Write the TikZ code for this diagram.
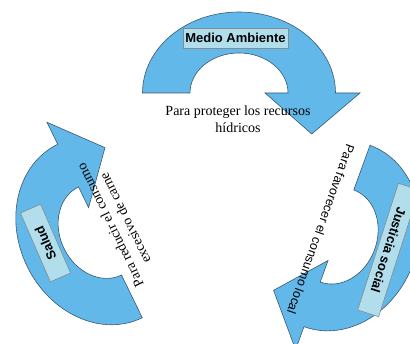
\documentclass[tikz,border=0pt]{standalone}
\usepackage{fontspec}
\setmainfont{Liberation Serif}
\setsansfont{Liberation Sans}
\definecolor{arrowblue}{RGB}{98,184,232}
\definecolor{arrowedge}{RGB}{60,88,115}
\definecolor{boxblue}{RGB}{178,222,236}
\definecolor{boxedge}{RGB}{130,140,145}
\tikzset{
  arrowshape/.style={fill=arrowblue,draw=arrowedge,line width=0.6pt,line join=miter},
  labelbox/.style={fill=boxblue,draw=boxedge,line width=0.6pt,inner sep=0pt,
    font=\sffamily\bfseries\fontsize{13}{15}\selectfont,text=black},
  captionserif/.style={font=\fontsize{14}{16.5}\selectfont,align=center,inner sep=0pt,text=black},
  captionsans/.style={font=\sffamily\fontsize{12.5}{14}\selectfont,inner sep=0pt,text=black}
}
\newcommand{\circarrow}{%
  (-96.5pt,0pt) arc[start angle=180,end angle=0,x radius=96.5pt,y radius=81pt]
  -- (121pt,0pt) -- (72.75pt,-41pt) -- (26pt,0pt) -- (49pt,0pt)
  arc[start angle=0,end angle=180,x radius=49pt,y radius=40pt] -- cycle}
\begin{document}
\begin{tikzpicture}[x=1pt,y=1pt]
\useasboundingbox (0,0) rectangle (410,-344);
\clip (0,0) rectangle (410,-344);
% arrows
\begin{scope}[shift={(239,-93)}]
  \path[arrowshape] \circarrow;
\end{scope}
\begin{scope}[shift={(100,-231)},rotate=116]
  \path[arrowshape] \circarrow;
\end{scope}
\begin{scope}[shift={(337,-236)},rotate=-110]
  \path[arrowshape] \circarrow;
\end{scope}
% label boxes
\node[labelbox,minimum width=105pt,minimum height=20pt] (medio) at (235.5,-38) {Medio Ambiente};
\node[labelbox,minimum width=75pt,minimum height=22pt,rotate=113.5] (salud) at (45.5,-243) {Salud};
\node[labelbox,minimum width=133pt,minimum height=22pt,rotate=-107.8] (justicia) at (388.5,-250) {Justicia social};
% captions
\node[captionserif] (cap1) at (238,-119) {Para proteger los recursos\\h\'idricos};
\node[captionserif,rotate=116] (cap2) at (117.5,-222) {Para reducir el consumo\\excesivo de carne};
\node[captionsans,rotate=-109.5] (cap3) at (321,-229.5) {Para favorecer el consumo local};
\end{tikzpicture}
\end{document}
